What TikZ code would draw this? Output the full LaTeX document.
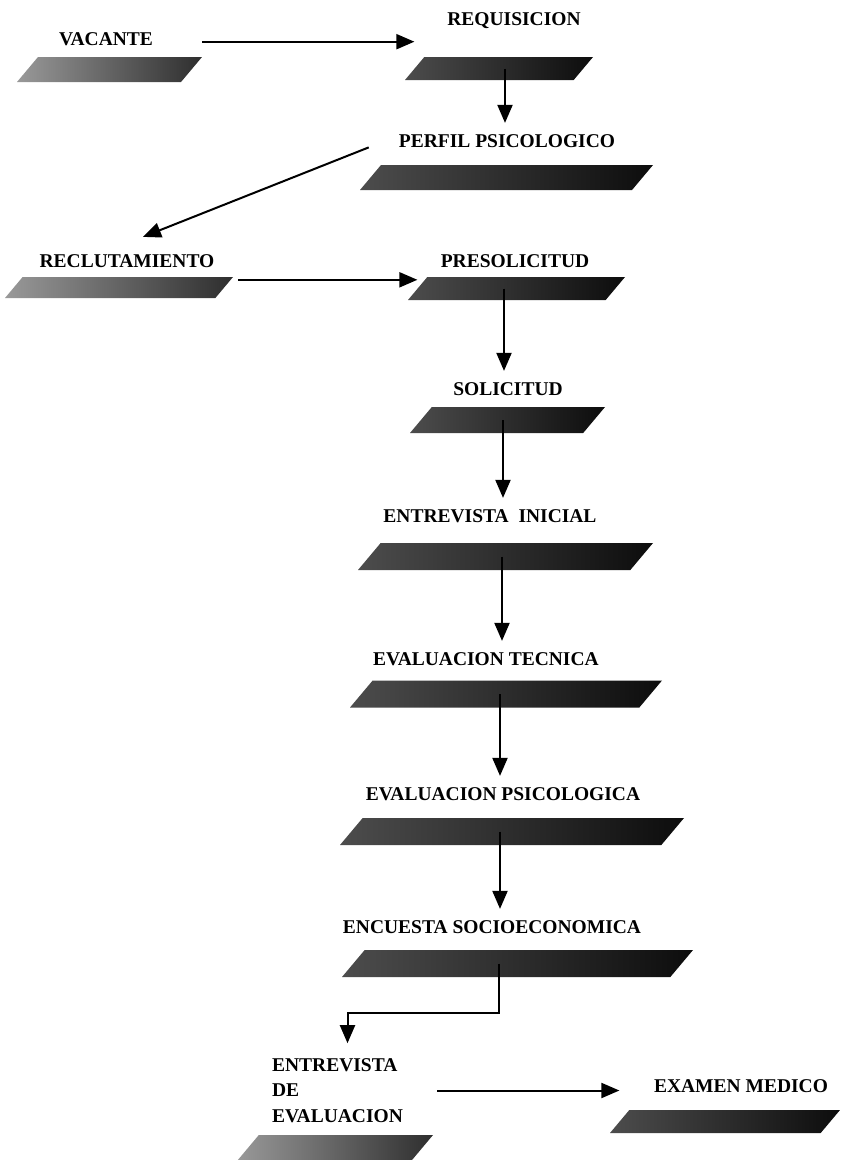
\documentclass[tikz,border=0pt]{standalone}
\usepackage{fontspec}
\setmainfont{Liberation Serif}
\usetikzlibrary{arrows.meta,shapes.geometric}
\tikzset{
  >={Triangle[length=18pt,width=15pt]},
  lbl/.style={font=\bfseries\fontsize{19.5}{25.5}\selectfont,inner sep=0pt,anchor=base},
  para/.style 2 args={trapezium,trapezium left angle=50,trapezium right angle=130,
    trapezium stretches body,inner sep=0pt,minimum width=#1pt,text height=#2pt,text depth=0pt,
    left color=black!70,right color=black!95},
  parapale/.style 2 args={para={#1}{#2},left color=black!40,right color=black!82},
  flow/.style={->,line width=2pt},
  down/.style={flow,shorten >=11pt},
}
\begin{document}
\begin{tikzpicture}[x=1pt,y=-1pt]
  \useasboundingbox (0,0) rectangle (841,1160);
  \node[lbl] (vac) at (106,45) {VACANTE};
  \node[parapale={185}{25}] (vacp) at (109.5,69.5) {};
  \node[lbl] (req) at (514,25) {REQUISICION};
  \node[para={188}{23}] (reqp) at (499,68.5) {};
  \node[lbl] (perfil) at (507,147) {PERFIL PSICOLOGICO};
  \node[para={293}{25}] (perfilp) at (506.5,177.5) {};
  \node[lbl] (recl) at (127,267) {RECLUTAMIENTO};
  \node[parapale={228}{21}] (reclp) at (119,287.5) {};
  \node[lbl] (presol) at (515,267) {PRESOLICITUD};
  \node[para={217}{23}] (presolp) at (516.5,288.5) {};
  \node[lbl] (sol) at (508,395) {SOLICITUD};
  \node[para={195}{26}] (solp) at (507.5,420) {};
  \node[lbl] (entin) at (490,522) {ENTREVISTA\ \ INICIAL};
  \node[para={295}{27}] (entinp) at (505.5,556.5) {};
  \node[lbl] (evalt) at (486,665) {EVALUACION TECNICA};
  \node[para={312}{27}] (evaltp) at (506,694) {};
  \node[lbl] (evalp) at (503,800) {EVALUACION PSICOLOGICA};
  \node[para={344}{27}] (evalpp) at (512,831.5) {};
  \node[lbl] (enc) at (492,933) {ENCUESTA SOCIOECONOMICA};
  \node[para={351}{27}] (encp) at (517.5,963.5) {};
  \node[lbl,anchor=center,align=left] (entev) at (337.5,1090.5) {ENTREVISTA\\DE\\EVALUACION};
  \node[parapale={196}{26}] (entevp) at (335,1148) {};
  \node[lbl] (exam) at (741,1092) {EXAMEN MEDICO};
  \node[para={230}{23}] (examp) at (725,1121.5) {};

  \draw[flow] ([yshift=-3pt]vac.east -| vacp.top right corner) -- ([yshift=-3pt]vac.east -| reqp.west);
  \draw[down] ([xshift=6pt]reqp.center) -- ([xshift=6pt]reqp.center |- perfil.north);
  \draw[flow] ([xshift=-30pt]perfil.south west) -- ([xshift=16pt,yshift=17pt]recl.north);
  \draw[flow] ([xshift=5pt,yshift=-3pt]reclp.top right corner) -- ([yshift=-3pt]reclp.top right corner -| presolp.west);
  \draw[down] ([xshift=-12.5pt]presolp.center) -- ([xshift=-12.5pt]presolp.center |- sol.north);
  \draw[down] ([xshift=-4.5pt]solp.center) -- ([xshift=-4.5pt]solp.center |- entin.north);
  \draw[down] ([xshift=-3.5pt]entinp.center) -- ([xshift=-3.5pt]entinp.center |- evalt.north);
  \draw[down] ([xshift=-6pt]evaltp.center) -- ([xshift=-6pt]evaltp.center |- evalp.north);
  \draw[down] ([xshift=-12pt]evalpp.center) -- ([xshift=-12pt]evalpp.center |- enc.north);
  \draw[flow] ([xshift=-19pt]encp.center) -- ++(0,-49.5pt) -| ([xshift=10pt,yshift=15pt]entev.north);
  \draw[flow] ([xshift=34pt]entev.east) -- (entev.east -| examp.west);
\end{tikzpicture}
\end{document}
